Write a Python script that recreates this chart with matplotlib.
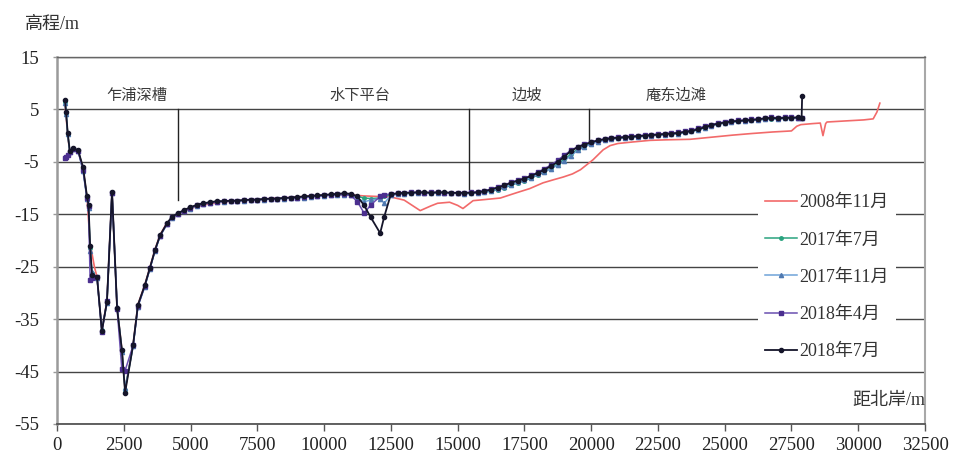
import matplotlib
matplotlib.use("Agg")
import matplotlib.pyplot as plt

plt.rcParams["font.family"] = ["Liberation Serif", "Noto Sans CJK SC"]
plt.rcParams["axes.unicode_minus"] = False

# Distance from the north bank (m) for the 2017-2018 surveys
dist = [300, 340, 400, 480, 600, 790, 975, 1120, 1180, 1240,
        1310, 1500, 1680, 1870, 2060, 2250, 2430, 2550, 2850, 3030,
        3290, 3480, 3670, 3860, 4120, 4300, 4530,
        4750, 4980,
        5230, 5470, 5730, 5990,
        6250, 6500, 6750, 7000, 7250, 7500, 7750, 8000, 8250, 8500,
        8750, 9000, 9250, 9500, 9750, 10000, 10250, 10500, 10750, 11000,
        11250, 11500, 11750,
        12100,
        12250, 12500, 12750, 13000, 13250, 13500, 13750, 14000, 14250, 14500,
        14750, 15000, 15250, 15500, 15750, 16000, 16250, 16500, 16750, 17000,
        17250, 17500, 17750, 18000, 18250, 18500, 18750, 19000, 19250, 19500,
        19750, 20000, 20250, 20500, 20750, 21000, 21250, 21500, 21750, 22000,
        22250, 22500, 22750, 23000, 23250, 23500, 23750, 24000, 24250, 24500,
        24750, 25000, 25250, 25500, 25750, 26000, 26250, 26500, 26750, 27000,
        27250, 27500, 27750,
        27880]

# 2018-07 survey ends with a point on the bank top
dist_2018_7 = dist + [27900]

elev_2018_7 = [6.8, 4.5, 0.5, -3.0, -2.4, -2.8, -6.0, -11.5, -13.2, -21.0,
               -26.5, -27.0, -37.3, -31.7, -10.7, -32.9, -40.9, -49.0, -39.9, -32.3,
               -28.5, -25.2, -21.8, -19.0, -16.7, -15.5, -14.8,
               -14.2, -13.7,
               -13.2, -12.9, -12.7, -12.5,
               -12.5, -12.4, -12.4, -12.3, -12.2, -12.2, -12.1, -12.0, -12.0, -11.9,
               -11.8, -11.7, -11.6, -11.5, -11.4, -11.3, -11.2, -11.1, -11.0, -11.1,
               -11.6, -13.3, -15.6,
               -18.6,
               -15.5, -11.2, -11.0, -10.9, -10.9, -10.8, -10.8, -10.9, -10.8, -10.8,
               -10.9, -10.9, -10.9, -10.9, -10.8, -10.6, -10.3, -9.9, -9.5, -9.0,
               -8.6, -8.2, -7.7, -7.1, -6.5, -5.8, -5.0, -4.0, -2.9, -2.2,
               -1.7, -1.3, -0.9, -0.7, -0.5, -0.4, -0.3, -0.2, -0.1, 0.0,
               0.1, 0.2, 0.3, 0.4, 0.5, 0.7, 0.9, 1.2, 1.6, 2.0,
               2.3, 2.5, 2.7, 2.8, 2.9, 3.0, 3.1, 3.3, 3.4, 3.3,
               3.4, 3.4, 3.5,
               3.4, 7.5]

elev_2018_4 = [-4.3, -4.1, -3.6, -3.2, -2.6, -2.9, -6.5, -11.8, -13.5, -27.5,
               -27.2, -27.0, -37.5, -31.5, -10.9, -33.0, -44.6, -44.8, -40.0, -32.5,
               -28.6, -25.3, -21.9, -19.1, -16.8, -15.6, -14.9,
               -14.3, -13.8,
               -13.3, -13.0, -12.8, -12.6,
               -12.5, -12.5, -12.4, -12.3, -12.3, -12.2, -12.1, -12.1, -12.0, -11.9,
               -11.8, -11.8, -11.7, -11.6, -11.5, -11.4, -11.3, -11.2, -11.2, -11.4,
               -12.6, -14.8, -13.2,
               -11.6,
               -11.3, -11.1, -11.0, -10.9, -10.8, -10.8, -10.9, -10.8, -10.8, -10.9,
               -10.9, -11.0, -10.9, -10.8, -10.7, -10.5, -10.2, -9.8, -9.4, -8.9,
               -8.5, -8.1, -7.6, -7.0, -6.3, -5.6, -4.7, -3.7, -2.8, -2.1,
               -1.6, -1.2, -0.9, -0.6, -0.4, -0.3, -0.2, -0.1, 0.0, 0.1,
               0.2, 0.3, 0.4, 0.5, 0.6, 0.8, 1.0, 1.4, 1.8, 2.1,
               2.4, 2.6, 2.8, 2.9, 3.0, 3.1, 3.2, 3.3, 3.5, 3.4,
               3.5, 3.5, 3.4,
               3.4]

elev_2017_11 = [6.3, 4.2, 0.3, -3.2, -2.5, -2.9, -6.8, -12.0, -13.8, -22.0,
                -26.0, -27.2, -37.0, -31.9, -11.0, -32.6, -41.2, -48.2, -40.2, -32.6,
                -28.8, -25.4, -22.0, -19.2, -16.9, -15.7, -15.0,
                -14.4, -13.9,
                -13.4, -13.1, -12.8, -12.7,
                -12.6, -12.5, -12.5, -12.4, -12.3, -12.3, -12.2, -12.1, -12.1, -12.0,
                -11.9, -11.9, -11.8, -11.7, -11.6, -11.5, -11.4, -11.3, -11.3, -11.4,
                -12.0, -12.6, -12.3,
                -12.0,
                -12.9, -11.4, -11.2, -11.1, -11.0, -11.0, -11.0, -11.0, -10.9, -11.0,
                -11.0, -11.0, -11.1, -11.0, -10.9, -10.8, -10.5, -10.2, -9.8, -9.4,
                -8.9, -8.5, -8.0, -7.4, -6.9, -6.3, -5.6, -4.8, -3.8, -2.8,
                -2.1, -1.6, -1.2, -0.9, -0.7, -0.5, -0.4, -0.3, -0.2, -0.1,
                0.0, 0.1, 0.2, 0.3, 0.4, 0.6, 0.8, 1.1, 1.5, 1.9,
                2.2, 2.4, 2.6, 2.7, 2.8, 2.9, 3.0, 3.2, 3.3, 3.2,
                3.3, 3.3, 3.4,
                3.3]

elev_2017_7 = [6.5, 4.4, 0.4, -3.1, -2.5, -2.8, -6.4, -11.7, -13.5, -21.5,
               -26.2, -27.1, -37.1, -31.8, -10.8, -32.8, -41.0, -48.5, -40.0, -32.4,
               -28.6, -25.3, -21.9, -19.1, -16.8, -15.6, -14.9,
               -14.3, -13.8,
               -13.3, -13.0, -12.7, -12.6,
               -12.5, -12.5, -12.4, -12.3, -12.3, -12.2, -12.1, -12.1, -12.0, -11.9,
               -11.9, -11.8, -11.7, -11.6, -11.5, -11.4, -11.3, -11.2, -11.2, -11.3,
               -11.6, -11.9, -12.0,
               -11.9,
               -11.6, -11.3, -11.1, -11.0, -11.0, -10.9, -10.9, -11.0, -10.9, -10.9,
               -11.0, -11.0, -11.0, -11.0, -10.9, -10.8, -10.6, -10.3, -9.9, -9.5,
               -9.0, -8.6, -8.1, -7.5, -6.9, -6.2, -5.4, -4.5, -3.5, -2.6,
               -2.0, -1.5, -1.1, -0.8, -0.6, -0.5, -0.4, -0.3, -0.2, -0.1,
               0.0, 0.1, 0.2, 0.3, 0.4, 0.6, 0.8, 1.1, 1.5, 1.9,
               2.2, 2.4, 2.6, 2.7, 2.8, 2.9, 3.0, 3.1, 3.2, 3.2,
               3.3, 3.3, 3.3,
               3.3]

# 2008-11 survey
dist_2008_11 = [300, 400, 480, 600, 790, 975, 1120, 1240, 1400, 1500,
                1680, 1870, 2060, 2250, 2430, 2550, 2850, 3030, 3290, 3480,
                3670, 3860, 4120, 4530, 4980, 5470, 5990, 6500, 7000, 7500,
                8000, 8500, 9000, 9500, 10000, 10500, 11000, 11500, 12000, 12500,
                13000, 13300, 13600, 14000, 14250, 14700, 15000, 15200, 15580, 16000,
                16600, 17200, 17700, 18200, 18600, 18950, 19300, 19600, 20070, 20450,
                20710, 21000, 21570, 22200, 22800, 23700, 24500, 25300, 26000, 26800,
                27500, 27700, 27850, 28300, 28580, 28680, 28780, 28830, 29500, 30200,
                30560, 30700, 30810]
elev_2008_11 = [6.0, 0.2, -3.3, -2.6, -2.9, -6.3, -11.6, -20.5, -25.0, -27.0,
                -37.0, -31.6, -10.8, -32.8, -40.8, -48.5, -39.8, -32.2, -28.4, -25.1,
                -21.7, -18.9, -16.6, -14.9, -13.9, -13.2, -12.8, -12.5, -12.3, -12.2,
                -12.0, -11.9, -11.7, -11.5, -11.4, -11.3, -11.3, -11.5, -11.6, -11.7,
                -12.3, -13.3, -14.3, -13.4, -12.9, -12.7, -13.3, -13.9, -12.4, -12.2,
                -11.9, -10.9, -10.1, -9.0, -8.4, -7.9, -7.3, -6.5, -4.6, -2.7,
                -1.9, -1.5, -1.2, -0.9, -0.8, -0.7, -0.3, 0.1, 0.4, 0.7,
                0.9, 1.8, 2.1, 2.3, 2.4, 0.0, 2.3, 2.6, 2.8, 3.0,
                3.2, 4.5, 6.2]

series_labels = ["2008年11月", "2017年7月", "2017年11月", "2018年4月", "2018年7月"]

# Morphological zones: label, label position (x), boundary line (x, lower end)
zone_labels = ["乍浦深槽", "水下平台", "边坡", "庵东边滩"]
zone_label_x = [3000, 11350, 17600, 23170]
zone_bounds_x = [4530, 15430, 19920]
zone_bounds_low = [-12.3, -10.1, -1.8]

W, H = 955, 455
fig = plt.figure(figsize=(W / 100, H / 100), dpi=100)
left, right, top, bottom = 57, 925, 57, 424
ax = fig.add_axes([left / W, 1 - bottom / H, (right - left) / W, (bottom - top) / H])

ax.set_xlim(0, 32500)
ax.set_ylim(-55, 15)
ax.set_xticks(range(0, 32501, 2500))
ax.set_yticks(range(-55, 16, 10))
ax.yaxis.grid(True, color="#444444", lw=1.0)
ax.set_axisbelow(True)

ax.spines["left"].set_color("#9a9a9a")
ax.spines["left"].set_linewidth(1.8)
ax.spines["right"].set_color("#a8a8a8")
ax.spines["right"].set_linewidth(1.5)
ax.spines["top"].set_color("#666666")
ax.spines["top"].set_linewidth(1.0)
ax.spines["bottom"].set_color("#555555")
ax.spines["bottom"].set_linewidth(1.3)
ax.tick_params(axis="x", direction="out", length=5, width=1, color="#555555",
               labelsize=13.5, pad=4.5, labelcolor="#222222")
ax.tick_params(axis="y", direction="out", length=3, width=1, color="#999999",
               labelsize=13.5, pad=10, labelcolor="#222222")

# Profiles (older surveys underneath)
ax.plot(dist_2008_11, elev_2008_11, color="#f26a6a", lw=1.2, label=series_labels[0], zorder=3)
ax.plot(dist, elev_2017_7, color="#2aa37f", lw=1.1, marker="o", ms=2.5,
        label=series_labels[1], zorder=4)
ax.plot(dist, elev_2017_11, color="#6fa3d8", lw=1.1, marker="^", ms=3,
        mfc="#4f79b0", mec="#4f79b0", label=series_labels[2], zorder=5)
ax.plot(dist, elev_2018_4, color="#6a4fb0", lw=1.1, marker="s", ms=3.2,
        mfc="#4b2f8f", mec="#4b2f8f", label=series_labels[3], zorder=6)
ax.plot(dist_2018_7, elev_2018_7, color="#15152a", lw=1.3, marker="o", ms=3,
        label=series_labels[4], zorder=7)

# Zone boundaries and names
for xb, yb in zip(zone_bounds_x, zone_bounds_low):
    ax.plot([xb, xb], [5, yb], color="#222222", lw=1.0, zorder=2)
for name, xl in zip(zone_labels, zone_label_x):
    ax.text(xl, 7.6, name, ha="center", va="center", fontsize=11, color="#3a3a3a")

leg = ax.legend(loc="upper left", bbox_to_anchor=(758 / W, 1 - 187 / H),
                bbox_transform=fig.transFigure, borderaxespad=0,
                frameon=True, fancybox=False, framealpha=1, facecolor="white",
                edgecolor="none", fontsize=13, handlelength=1.75,
                handletextpad=0.12, labelspacing=1.12, numpoints=1,
                borderpad=0.4)
leg.set_zorder(10)
for t in leg.get_texts():
    t.set_color("#333333")

fig.text(25 / W, 1 - 24 / H, "高程/m", fontsize=13, va="center", ha="left", color="#333333")
fig.text(925 / W, 1 - 400 / H, "距北岸/m", fontsize=13, va="center", ha="right", color="#333333")

fig.savefig("out.png", dpi=100)
